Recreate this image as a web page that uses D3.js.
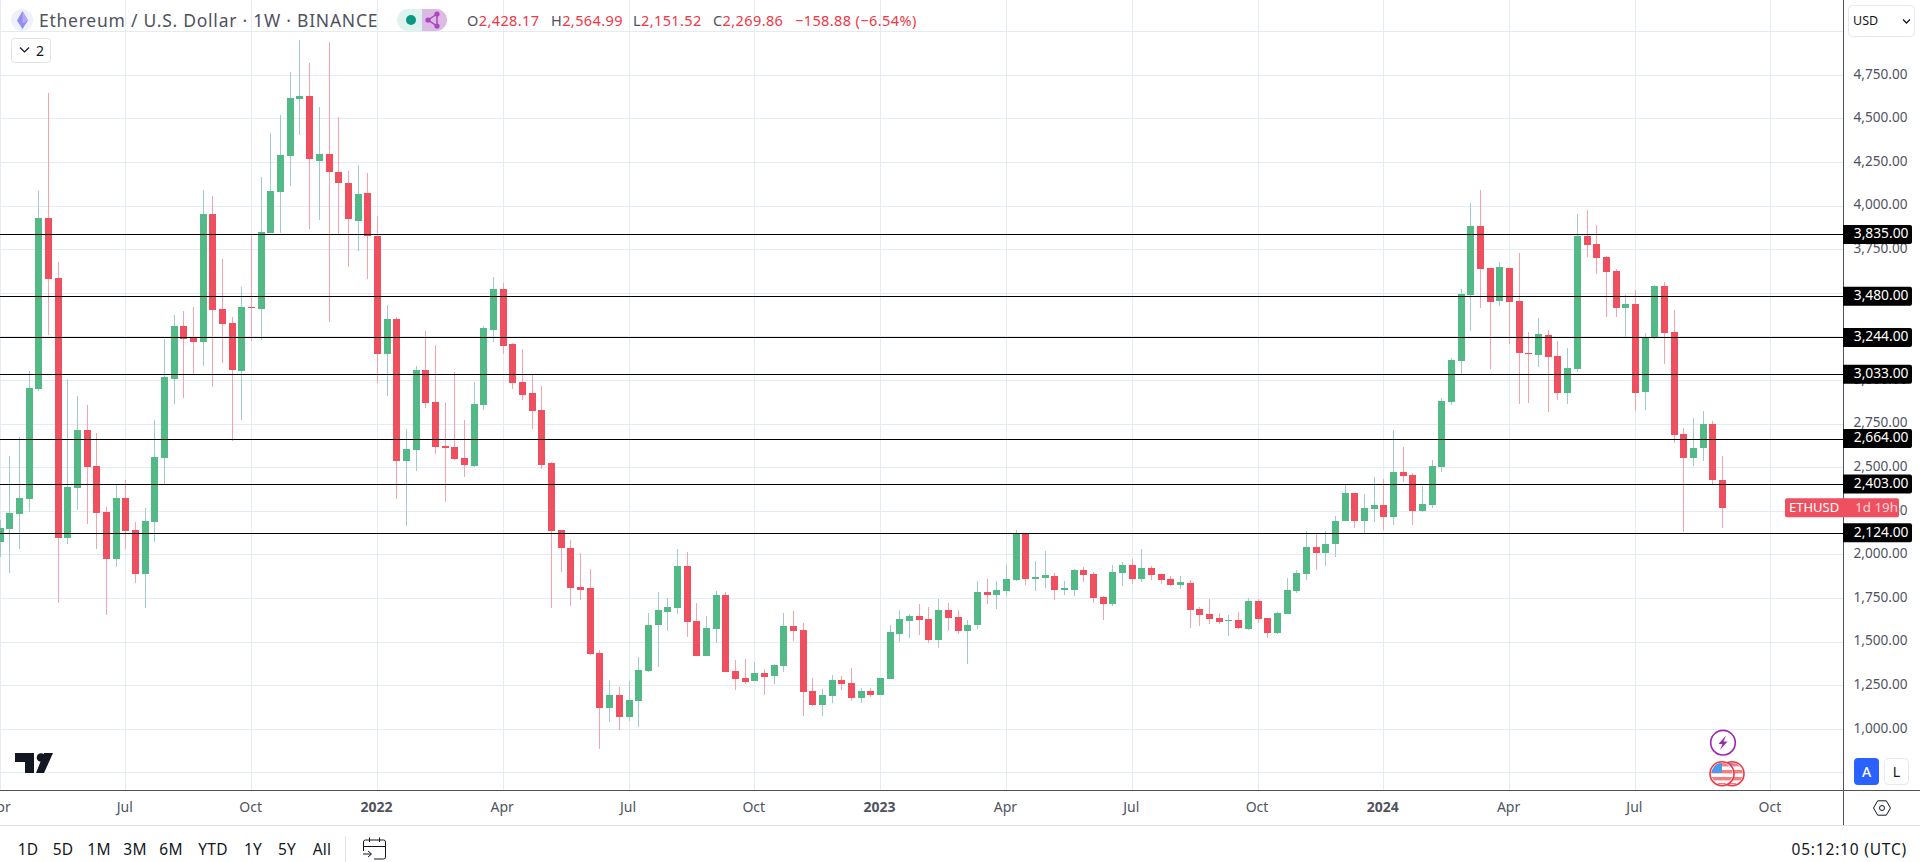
<!DOCTYPE html>
<html>
<head>
<meta charset="utf-8">
<title>Ethereum / U.S. Dollar</title>
<script src="https://cdn.jsdelivr.net/npm/d3@7"></script>
<style>
  html, body { margin: 0; padding: 0; background: #fff; overflow: hidden; }
  text { font-family: "Noto Sans", sans-serif; }
</style>
</head>
<body>
<div id="chart"></div>
<script>
// weekly candles, first one is the week of 5 Apr 2021
const firstWeek = new Date(Date.UTC(2021, 3, 5));

const opens = [2076,2148,2236,2320,2952,3932,3588,2099,2385,2716,2510,2246,1976,2326,2143,1890,2189,2556,3009,3313,
  3246,3221,3955,3411,3330,3055,3422,3411,3846,4081,4288,4614,4632,4259,4299,4196,4133,3915,4076,3829,
  3153,3353,2538,2601,3061,2877,2624,2619,2555,2510,2860,3290,3525,3210,2992,2929,2831,2527,2143,2040,
  1816,1810,1438,1122,1197,1071,1162,1334,1598,1673,1696,1936,1621,1420,1575,1770,1334,1294,1277,1323,
  1306,1363,1592,1569,1220,1139,1191,1283,1266,1180,1220,1197,1289,1546,1621,1650,1632,1512,1684,1644,
  1564,1598,1787,1770,1793,1856,2124,1862,1868,1879,1804,1799,1913,1890,1759,1718,1896,1942,1862,1925,
  1890,1862,1827,1839,1690,1661,1638,1621,1627,1575,1736,1638,1552,1661,1793,1890,2045,2012,2063,2195,
  2356,2195,2264,2287,2218,2476,2459,2252,2287,2505,2877,3112,3491,3886,3645,3456,3645,3456,3158,3147,
  3261,3141,2929,3066,3829,3783,3709,3628,3416,3439,2935,3248,3542,3279,2694,2556,2613,2751,2428.17];
const highs = [2200,2567,2674,3055,4087,4649,3680,3009,2912,2860,2697,2273,2401,2429,2189,2269,2774,3237,3376,3399,
  3422,4093,4058,3697,3365,3537,3835,4167,4420,4523,4769,4953,4821,4569,4941,4511,4202,4236,4190,3944,
  3433,3365,2721,3084,3284,3204,2872,3049,2774,2992,3310,3594,3560,3216,3181,3032,2969,2533,2143,2085,
  2011,1919,1455,1283,1243,1277,1415,1667,1787,1753,2034,2017,1724,1650,1793,1787,1397,1403,1386,1346,
  1375,1667,1678,1610,1294,1231,1311,1306,1352,1237,1237,1294,1598,1684,1661,1718,1701,1747,1724,1684,
  1627,1850,1862,1850,1942,2143,2124,1965,2022,1896,1850,1919,1931,1902,1764,1942,1959,1976,2034,1936,
  1890,1879,1879,1856,1701,1747,1667,1655,1673,1753,1747,1638,1673,1867,1913,2138,2120,2138,2224,2401,
  2356,2350,2447,2436,2717,2619,2470,2396,2545,2900,3130,3525,4018,4093,3645,3680,3645,3732,3279,3359,
  3290,3227,3187,3955,3978,3892,3714,3640,3491,3519,3273,3548,3565,3405,2728,2785,2825,2768,2564.99];
const lows = [1990,1898,2036,2248,2937,3261,1726,2064,2257,2177,2036,1657,1931,2034,1839,1696,2076,2406,2866,2900,
  3038,3084,2963,3101,2653,2774,3227,3233,3846,3845,4116,4408,3869,3921,3336,3840,3651,3743,3582,2986,
  2912,2320,2166,2481,2843,2578,2303,2544,2447,2504,2831,3221,3153,2952,2889,2723,2492,1696,1902,1707,
  1741,1426,887,1042,996,1048,1013,1330,1357,1564,1661,1529,1420,1420,1495,1329,1225,1260,1277,1197,
  1260,1329,1506,1076,1134,1076,1151,1225,1162,1151,1185,1197,1289,1501,1524,1541,1495,1466,1564,1546,
  1374,1575,1718,1690,1764,1850,1827,1793,1810,1741,1770,1764,1845,1724,1627,1707,1822,1833,1845,1856,
  1833,1822,1804,1581,1592,1604,1604,1535,1575,1569,1610,1524,1546,1661,1781,1856,1913,1936,1988,2195,
  2155,2126,2189,2143,2172,2419,2172,2247,2270,2476,2860,3038,3284,3416,3066,3428,3210,2866,2871,3078,
  2820,2889,2866,3049,3709,3611,3365,3365,3250,2826,2831,3238,3095,2642,2132,2510,2539,2407,2151.52];
const closes = [2152,2238,2324,2957,3932,3582,2099,2389,2716,2504,2240,1976,2326,2137,1890,2194,2561,3021,3313,3239,
  3221,3955,3405,3325,3061,3422,3418,3852,4087,4293,4620,4632,4270,4299,4196,4133,3926,4070,3829,3153,
  3353,2538,2607,3061,2872,2619,2613,2550,2515,2866,3302,3525,3198,2986,2917,2826,2515,2137,2040,1810,
  1799,1432,1122,1197,1071,1168,1340,1598,1684,1701,1936,1615,1420,1581,1770,1329,1289,1271,1323,1300,
  1369,1592,1564,1214,1139,1197,1283,1260,1180,1220,1197,1294,1558,1632,1650,1627,1512,1684,1638,1564,
  1598,1787,1770,1799,1862,2124,1862,1873,1885,1799,1810,1913,1885,1753,1718,1902,1942,1862,1925,1885,
  1856,1827,1845,1684,1655,1632,1615,1627,1581,1736,1632,1552,1667,1798,1896,2045,2012,2063,2195,2356,
  2195,2270,2287,2218,2476,2453,2252,2293,2510,2883,3118,3496,3886,3640,3451,3651,3451,3158,3152,3267,
  3135,2929,3072,3829,3777,3703,3623,3416,3439,2929,3248,3542,3273,2688,2556,2613,2751,2428.74,2269.86];

const levelPrices = [3835, 3480, 3244, 3033, 2664, 2403, 2124];
const priceTicks = [5000,4750,4500,4250,4000,3750,3500,3250,3000,2750,2500,2250,2000,1750,1500,1250,1000,750];
const timeTicks = [
  ["2021-04-05","Apr"],["2021-07-05","Jul"],["2021-10-04","Oct"],["2022-01-03","2022"],
  ["2022-04-04","Apr"],["2022-07-04","Jul"],["2022-10-03","Oct"],["2023-01-02","2023"],
  ["2023-04-03","Apr"],["2023-07-03","Jul"],["2023-10-02","Oct"],["2024-01-01","2024"],
  ["2024-04-01","Apr"],["2024-07-01","Jul"],["2024-10-07","Oct"]
];
const rangeButtons = [["1D",28],["5D",63],["1M",99],["3M",135],["6M",171],["YTD",213],["1Y",253],["5Y",287],["All",322]];

const width = 1920, height = 862;
const axisX = 1843, axisY = 790, footY = 825;
const upColor = "#53b987", downColor = "#ef5060";
const upWick = "#a3cacb", downWick = "#f7a3ad";
const textColor = "#50535e", redText = "#f23645";

const dates = opens.map((d, i) => d3.utcDay.offset(firstWeek, i * 7));
const candles = opens.map((d, i) => ({date: dates[i], o: d, h: highs[i], l: lows[i], c: closes[i]}));

const x = d3.scaleUtc()
  .domain([firstWeek, new Date(Date.UTC(2024, 8, 2))])
  .range([-0.5, 1722]);
const y = d3.scaleLinear().domain([1000, 4750]).range([729.3, 75.3]);
const fmt = d3.format(",.2f");

const svg = d3.select("#chart").append("svg")
  .attr("width", width).attr("height", height)
  .style("display", "block");

svg.append("clipPath").attr("id", "pane").append("rect")
  .attr("width", axisX).attr("height", axisY);

const pane = svg.append("g").attr("clip-path", "url(#pane)");

// grid
pane.selectAll(".hgrid").data(priceTicks).enter().append("line")
  .attr("x1", 0).attr("x2", axisX)
  .attr("y1", d => Math.floor(y(d)) + 0.5).attr("y2", d => Math.floor(y(d)) + 0.5)
  .attr("stroke", "#e4ecf2");
pane.selectAll(".vgrid").data(timeTicks).enter().append("line")
  .attr("x1", d => Math.round(x(new Date(d[0]))) + 0.5).attr("x2", d => Math.round(x(new Date(d[0]))) + 0.5)
  .attr("y1", 0).attr("y2", axisY)
  .attr("stroke", "#e4ecf2");

// candles
pane.selectAll(".wick").data(candles).enter().append("line")
  .attr("x1", d => Math.round(x(d.date)) + 0.5).attr("x2", d => Math.round(x(d.date)) + 0.5)
  .attr("y1", d => y(d.h)).attr("y2", d => y(d.l))
  .attr("stroke", d => d.c >= d.o ? upWick : downWick)
  .attr("shape-rendering", "crispEdges");
pane.selectAll(".body").data(candles).enter().append("rect")
  .attr("x", d => Math.round(x(d.date)) - 3)
  .attr("width", 7)
  .attr("y", d => y(Math.max(d.o, d.c)))
  .attr("height", d => Math.max(1.5, Math.abs(y(d.o) - y(d.c))))
  .attr("fill", d => d.c >= d.o ? upColor : downColor)
  .attr("shape-rendering", "crispEdges");

// horizontal levels
pane.selectAll(".level").data(levelPrices).enter().append("line")
  .attr("x1", 0).attr("x2", axisX)
  .attr("y1", d => Math.floor(y(d)) + 0.5).attr("y2", d => Math.floor(y(d)) + 0.5)
  .attr("stroke", "#000");

// tradingview logo
const logo = pane.append("g").attr("fill", "#131722");
logo.append("path").attr("d", "M15 753H34V773H25V762H15Z");
logo.append("circle").attr("cx", 41).attr("cy", 757.5).attr("r", 4.3);
logo.append("path").attr("d", "M44 753H53L44 773H36Z");

// event marks
const lastX = x(dates[dates.length - 1]);
const ev = svg.append("g");
ev.append("circle").attr("cx", lastX + 1).attr("cy", 742.7).attr("r", 12.3)
  .attr("fill", "#fff").attr("stroke", "#9c27b0").attr("stroke-width", 1.6);
ev.append("path").attr("fill", "#9c27b0")
  .attr("d", `M${lastX + 4} 735.5L${lastX - 3.5} 744H${lastX + 0.5}L${lastX - 2} 750L${lastX + 5.5} 741.5H${lastX + 1.5}Z`);
[lastX + 10, lastX].forEach(function(cx, i) {
  const id = "flag" + i;
  svg.append("clipPath").attr("id", id).append("circle").attr("cx", cx).attr("cy", 773.7).attr("r", 10.6);
  const g = svg.append("g");
  g.append("circle").attr("cx", cx).attr("cy", 773.7).attr("r", 12).attr("fill", "#fff")
    .attr("stroke", "#f23645").attr("stroke-width", 1.6);
  const f = g.append("g").attr("clip-path", `url(#${id})`);
  [763, 770, 777, 783].forEach(sy => f.append("rect").attr("x", cx - 12).attr("y", sy).attr("width", 24).attr("height", 3.4).attr("fill", "#f77c80"));
  f.append("rect").attr("x", cx - 12).attr("y", 762).attr("width", 12).attr("height", 11).attr("fill", "#4a9be8");
});

// chart frame
svg.append("line").attr("x1", 0).attr("x2", width).attr("y1", axisY + 0.5).attr("y2", axisY + 0.5).attr("stroke", "#50535e");
svg.append("line").attr("x1", 0).attr("x2", width).attr("y1", footY + 0.5).attr("y2", footY + 0.5).attr("stroke", "#e0e3eb");
svg.append("line").attr("x1", axisX + 0.5).attr("x2", axisX + 0.5).attr("y1", 0).attr("y2", footY).attr("stroke", "#50535e");

// price axis
const priceAxis = svg.append("g");
priceAxis.selectAll("text").data(priceTicks.filter(d => d >= 1000)).enter().append("text")
  .attr("x", 1907.5).attr("y", d => y(d) - 1.5).attr("dy", "0.35em")
  .attr("text-anchor", "end").attr("font-size", "13.6px").attr("fill", textColor)
  .text(d => fmt(d));

// level labels
const lab = svg.selectAll(".lab").data(levelPrices).enter().append("g");
lab.append("path")
  .attr("d", d => {
    const t = y(d) - 10, b = y(d) + 9;
    return `M${axisX} ${t}H1910a2 2 0 0 1 2 2V${b - 2}a2 2 0 0 1 -2 2H${axisX}Z`;
  })
  .attr("fill", "#000");
lab.append("text")
  .attr("x", 1908.5).attr("y", d => y(d) - 1.5).attr("dy", "0.35em")
  .attr("text-anchor", "end").attr("font-size", "13.8px").attr("fill", "#fff")
  .text(d => fmt(d));

// last price tag
const lastY = y(closes[closes.length - 1]);
svg.append("rect").attr("x", 1785).attr("y", lastY - 9.5).attr("width", 114).attr("height", 19).attr("rx", 2).attr("fill", "#ef5060");
svg.append("text").attr("x", 1789).attr("y", lastY - 0.5).attr("dy", "0.35em")
  .attr("font-size", "13px").attr("fill", "#fff").text("ETHUSD");
svg.append("text").attr("x", 1855).attr("y", lastY - 0.5).attr("dy", "0.35em")
  .attr("font-size", "13.4px").attr("fill", "#fbd5d9").text("1d 19h");

// time axis labels
svg.selectAll(".tlab").data(timeTicks).enter().append("text")
  .attr("x", d => x(new Date(d[0])) - 0.5).attr("y", 807).attr("dy", "0.35em")
  .attr("text-anchor", "middle").attr("font-size", "14px")
  .attr("font-weight", d => d[1].length === 4 ? 700 : 400)
  .attr("fill", textColor)
  .text(d => d[1]);

// header
const head = svg.append("g");
head.append("circle").attr("cx", 22).attr("cy", 20).attr("r", 11).attr("fill", "#eef0fb");
head.append("path").attr("d", "M22.5 11L28 20.5L22.5 29L17 20.5Z").attr("fill", "#8f8ff0");
head.append("path").attr("d", "M22.5 11L28 20.5L22.5 23.5Z").attr("fill", "#b9a8f5");
head.append("text").attr("x", 39).attr("y", 27).attr("font-size", "17.5px").attr("fill", "#50535e")
  .attr("letter-spacing", "0.75px")
  .text("Ethereum / U.S. Dollar · 1W · BINANCE");
head.append("path").attr("d", "M422 9H408a11 11 0 0 0 0 22H422Z").attr("fill", "#dff3ee");
head.append("path").attr("d", "M422 9H436a11 11 0 0 1 0 22H422Z").attr("fill", "#ddb9e6");
head.append("circle").attr("cx", 411).attr("cy", 20).attr("r", 5).attr("fill", "#089981");
head.append("path").attr("d", "M437 14L428 20L437 26Z").attr("fill", "none").attr("stroke", "#ab47bc").attr("stroke-width", 1.5);
[[437, 14], [428, 20], [437, 26]].forEach(p => head.append("circle").attr("cx", p[0]).attr("cy", p[1]).attr("r", 2.6).attr("fill", "#ab47bc"));

const last = candles[candles.length - 1];
const prevClose = closes[closes.length - 2];
const ohlcText = [["O", last.o, 467], ["H", last.h, 551], ["L", last.l, 633], ["C", last.c, 713]];
ohlcText.forEach(function(d) {
  const t = head.append("text").attr("x", d[2]).attr("y", 26).attr("font-size", "14.5px").attr("letter-spacing", "0.4px");
  t.append("tspan").attr("fill", "#50535e").text(d[0]);
  t.append("tspan").attr("fill", redText).text(fmt(d[1]));
});
head.append("text").attr("x", 795).attr("y", 26).attr("font-size", "14.5px").attr("letter-spacing", "0.4px").attr("fill", redText)
  .text("\u2212" + fmt(prevClose - last.c) + " (\u2212" + d3.format(".2f")((prevClose - last.c) / prevClose * 100) + "%)");

// "2" drop down
const btn = svg.append("g");
btn.append("rect").attr("x", 11.5).attr("y", 38.5).attr("width", 39).attr("height", 24).attr("rx", 3).attr("fill", "#fff").attr("stroke", "#e0e3eb");
btn.append("path").attr("d", "M20 47.5L24.5 52L29 47.5").attr("fill", "none").attr("stroke", "#131722").attr("stroke-width", 1.2);
btn.append("text").attr("x", 36).attr("y", 56).attr("font-size", "14px").attr("fill", "#131722").text("2");

// USD box
const usd = svg.append("g");
usd.append("rect").attr("x", 1848.5).attr("y", 5.5).attr("width", 66).attr("height", 31).attr("rx", 4).attr("fill", "#fff").attr("stroke", "#e6e8f0");
usd.append("text").attr("x", 1853).attr("y", 25).attr("font-size", "12.5px").attr("fill", "#131722").text("USD");
usd.append("path").attr("d", "M1903 19.5L1906.5 23L1910 19.5").attr("fill", "none").attr("stroke", "#131722").attr("stroke-width", 1.3);

// A / L buttons, settings
const ctl = svg.append("g");
ctl.append("rect").attr("x", 1854).attr("y", 758).attr("width", 25).attr("height", 27).attr("rx", 4).attr("fill", "#2962ff");
ctl.append("text").attr("x", 1866.5).attr("y", 777).attr("text-anchor", "middle").attr("font-size", "14px").attr("font-weight", 500).attr("fill", "#fff").text("A");
ctl.append("rect").attr("x", 1884.5).attr("y", 758.5).attr("width", 24).attr("height", 26).attr("rx", 4).attr("fill", "#fff").attr("stroke", "#e6e8f0");
ctl.append("text").attr("x", 1896.5).attr("y", 777).attr("text-anchor", "middle").attr("font-size", "14px").attr("fill", "#131722").text("L");
ctl.append("path").attr("d", "M1873.5 808L1877.7 800.8H1886.3L1890.5 808L1886.3 815.2H1877.7Z").attr("fill", "none").attr("stroke", "#131722").attr("stroke-width", 1);
ctl.append("circle").attr("cx", 1882).attr("cy", 808).attr("r", 2.5).attr("fill", "none").attr("stroke", "#131722").attr("stroke-width", 1);

// bottom bar
const foot = svg.append("g");
foot.selectAll("text").data(rangeButtons).enter().append("text")
  .attr("x", d => d[1]).attr("y", 850).attr("dy", "0.35em")
  .attr("text-anchor", "middle").attr("font-size", "15.5px").attr("letter-spacing", "0.2px").attr("fill", "#131722")
  .text(d => d[0]);
foot.append("line").attr("x1", 345.5).attr("x2", 345.5).attr("y1", 836).attr("y2", 862).attr("stroke", "#e0e3eb");
foot.append("path").attr("fill", "none").attr("stroke", "#131722").attr("stroke-width", 1)
  .attr("d", "M363.5 851V842a2 2 0 0 1 2 -2H383.5a2 2 0 0 1 2 2V857a2 2 0 0 1 -2 2H374M363.5 846.5H385.5M369.5 837.5V842M379.5 837.5V842M363 854H371M368 851L371.5 854L368 857");
foot.append("text").attr("x", 1907).attr("y", 850).attr("dy", "0.35em")
  .attr("text-anchor", "end").attr("font-size", "15.5px").attr("letter-spacing", "0.8px").attr("fill", "#131722")
  .text("05:12:10 (UTC)");
</script>
</body>
</html>
